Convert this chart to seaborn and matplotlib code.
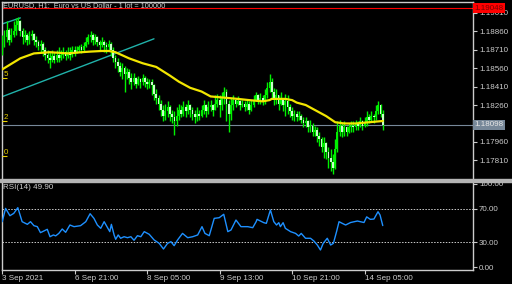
import numpy as np
import pandas as pd
import matplotlib
matplotlib.use("Agg")
import matplotlib.pyplot as plt
import seaborn as sns

# ---------------- data ----------------
first_open = 1.1871
close = [1.1875,1.1881,1.1887,1.1879,1.1883,1.1886,1.1891,1.1894,1.1886,1.1881,
         1.1883,1.1879,1.1882,1.1884,1.1879,1.1877,1.1874,1.1876,1.1871,1.1867,
         1.1864,1.1863,1.1866,1.1863,1.1867,1.1864,1.1867,1.1869,1.1866,1.1869,
         1.1867,1.1871,1.1869,1.1871,1.1873,1.1871,1.1874,1.1877,1.1881,1.1883,
         1.1879,1.1881,1.1877,1.1875,1.1877,1.1875,1.1873,1.1876,1.1871,1.1864,
         1.1861,1.1858,1.1853,1.1856,1.1851,1.1853,1.1848,1.1845,1.1848,1.1843,
         1.1847,1.1845,1.1848,1.1845,1.1843,1.1845,1.1842,1.1835,1.1832,1.1827,
         1.1822,1.1817,1.1821,1.1824,1.1819,1.1816,1.1813,1.1817,1.1822,1.1819,
         1.1824,1.1821,1.1826,1.1822,1.1819,1.1816,1.1819,1.1817,1.1822,1.1826,
         1.1821,1.1824,1.1826,1.1822,1.1827,1.1830,1.1826,1.1832,1.1837,1.1827,
         1.1819,1.1826,1.1830,1.1827,1.1829,1.1826,1.1827,1.1824,1.1827,1.1822,
         1.1826,1.1830,1.1834,1.1830,1.1832,1.1829,1.1834,1.1840,1.1845,1.1837,
         1.1830,1.1834,1.1827,1.1830,1.1826,1.1829,1.1824,1.1821,1.1817,1.1819,
         1.1816,1.1817,1.1814,1.1811,1.1813,1.1808,1.1809,1.1804,1.1806,1.1801,
         1.1798,1.1792,1.1795,1.1788,1.1783,1.1780,1.1775,1.1790,1.1804,1.1809,
         1.1804,1.1808,1.1804,1.1808,1.1809,1.1808,1.1811,1.1809,1.1813,1.1809,
         1.1811,1.1816,1.1814,1.1817,1.1816,1.1821,1.1826,1.1819,1.18098]
high = [1.1883,1.1887,1.1894,1.1889,1.1889,1.1894,1.1897,1.1898,1.1895,1.1889,
        1.1887,1.1885,1.1886,1.1887,1.1885,1.1882,1.1879,1.1879,1.1877,1.1873,
        1.1871,1.1869,1.1871,1.1869,1.1871,1.1873,1.1871,1.1873,1.1871,1.1873,
        1.1873,1.1874,1.1874,1.1874,1.1875,1.1876,1.1877,1.1881,1.1884,1.1886,
        1.1885,1.1884,1.1882,1.1879,1.1881,1.1879,1.1877,1.1879,1.1877,1.1873,
        1.1867,1.1864,1.1861,1.1860,1.1858,1.1856,1.1855,1.1852,1.1852,1.1849,
        1.1850,1.1848,1.1851,1.1850,1.1848,1.1847,1.1847,1.1843,1.1839,1.1834,
        1.1830,1.1826,1.1827,1.1829,1.1826,1.1822,1.1821,1.1824,1.1827,1.1826,
        1.1829,1.1827,1.1830,1.1827,1.1824,1.1822,1.1824,1.1822,1.1826,1.1830,
        1.1827,1.1829,1.1830,1.1827,1.1834,1.1835,1.1834,1.1837,1.1841,1.1839,
        1.1830,1.1832,1.1834,1.1832,1.1833,1.1830,1.1830,1.1829,1.1830,1.1829,
        1.1830,1.1834,1.1837,1.1835,1.1836,1.1834,1.1839,1.1845,1.1851,1.1848,
        1.1840,1.1839,1.1834,1.1837,1.1832,1.1835,1.1834,1.1827,1.1824,1.1822,
        1.1821,1.1821,1.1819,1.1816,1.1816,1.1814,1.1814,1.1811,1.1809,1.1808,
        1.1804,1.1800,1.1800,1.1796,1.1792,1.1790,1.1786,1.1798,1.1813,1.1814,
        1.1811,1.1813,1.1809,1.1811,1.1813,1.1813,1.1814,1.1813,1.1816,1.1814,
        1.1816,1.1821,1.1819,1.1821,1.1819,1.1826,1.1829,1.1827,1.1822]
low = [1.1867,1.1873,1.1877,1.1875,1.1877,1.1881,1.1883,1.1887,1.1882,1.1876,
       1.1877,1.1875,1.1876,1.1879,1.1875,1.1873,1.1871,1.1869,1.1866,1.1863,
       1.1860,1.1856,1.1861,1.1860,1.1861,1.1861,1.1863,1.1864,1.1863,1.1864,
       1.1863,1.1865,1.1866,1.1868,1.1869,1.1868,1.1869,1.1873,1.1876,1.1877,
       1.1875,1.1876,1.1874,1.1871,1.1873,1.1869,1.1868,1.1871,1.1866,1.1861,
       1.1856,1.1853,1.1850,1.1847,1.1837,1.1847,1.1843,1.1839,1.1842,1.1840,
       1.1842,1.1840,1.1842,1.1841,1.1839,1.1840,1.1834,1.1830,1.1827,1.1822,
       1.1817,1.1813,1.1814,1.1816,1.1813,1.1811,1.1802,1.1809,1.1814,1.1816,
       1.1817,1.1816,1.1819,1.1816,1.1814,1.1811,1.1813,1.1814,1.1816,1.1819,
       1.1816,1.1819,1.1821,1.1817,1.1822,1.1824,1.1816,1.1822,1.1827,1.1813,
       1.1804,1.1814,1.1822,1.1824,1.1826,1.1822,1.1824,1.1821,1.1822,1.1819,
       1.1821,1.1824,1.1829,1.1827,1.1827,1.1826,1.1827,1.1832,1.1837,1.1832,
       1.1826,1.1827,1.1822,1.1826,1.1821,1.1817,1.1819,1.1816,1.1814,1.1813,
       1.1813,1.1814,1.1811,1.1808,1.1808,1.1804,1.1804,1.1801,1.1801,1.1796,
       1.1793,1.1788,1.1783,1.1782,1.1775,1.1772,1.1770,1.1774,1.1788,1.1801,
       1.1800,1.1801,1.1801,1.1803,1.1804,1.1804,1.1806,1.1806,1.1808,1.1806,
       1.1808,1.1809,1.1811,1.1813,1.1811,1.1814,1.1819,1.1816,1.1806]

ma_bar = [0, 8, 14, 21, 29, 35, 39, 44, 47, 50, 56, 62, 68, 74, 78, 83, 88, 92,
          98, 104, 109, 115, 118, 119, 125, 128, 130, 134, 139, 143, 147, 151,
          156, 162, 168]
ma_val = [1.1855, 1.1864, 1.1868, 1.1869, 1.1868, 1.1869, 1.18695, 1.1870,
          1.1870, 1.1869, 1.1864, 1.1860, 1.1857, 1.1850, 1.1845, 1.1840,
          1.1837, 1.1833, 1.1832, 1.1831, 1.1830, 1.1829, 1.1830, 1.1831,
          1.1831, 1.1830, 1.1828, 1.1826, 1.1821, 1.1817, 1.1812, 1.1811,
          1.1811, 1.1812, 1.1813]

rsi_bar = [0, 1.5, 3.4, 5.1, 6.9, 8.8, 11.1, 12.5, 14, 15.5, 16.9, 18.4, 19.9,
           21.1, 22.6, 23.6, 25, 26.5, 28, 29.9, 31.7, 34.6, 36.9, 38.8, 40.5,
           42, 43.5, 45, 46.5, 47.5, 48.2, 49.4, 50.1, 51.2, 52.3, 53.8, 55.3,
           56.8, 58.2, 59.7, 61.2, 62.7, 64.9, 67.1, 69.3, 71.2, 73, 74.5, 75.9,
           77.4, 79.6, 81.9, 84.1, 86.3, 88.2, 89.5, 91.4, 93.6, 95.8, 97.8,
           99.6, 101, 103.2, 105.4, 108.4, 110.6, 112.1, 112.5, 115.5, 116.6,
           118.4, 119.9, 121.1, 122.1, 122.8, 124, 125, 127.3, 129.5, 130.9,
           132, 133.9, 136.1, 137.6, 139.1, 140.5, 141.7, 143.5, 145, 146.2,
           147.6, 148.7, 150.1, 151.6, 153.8, 156.8, 159.7, 160.9, 162.5,
           164.1, 165.9, 166.8, 168]
rsi_val = [54.6, 70.6, 61.8, 64.6, 71.5, 54.6, 51.4, 54.6, 49.8, 48.6, 41.4,
           43.4, 45.4, 36.5, 38.6, 37.5, 40.5, 45.8, 41.8, 50.6, 48.6, 49.8,
           54.6, 64.2, 58.6, 50.6, 46.6, 54.6, 47.4, 42.6, 51.4, 38.6, 33.4,
           38.6, 34.6, 36.5, 35.3, 36.5, 32.2, 37.7, 36.5, 42.6, 39.4, 32.5,
           28.5, 21.7, 28.5, 30.5, 25.7, 32.5, 40.5, 35.3, 36.5, 38.6, 48.6,
           40.5, 37.7, 58.6, 59.4, 63.5, 42.6, 44.6, 56.6, 48.6, 48.6, 47.4,
           54.6, 57.4, 53.4, 52.6, 68.7, 54.6, 50.6, 53.4, 48.6, 53.4, 46.6,
           42.6, 40.5, 37.3, 40.5, 34.6, 34.6, 31.3, 26.5, 20.5, 28.5, 34.6,
           26.5, 28.5, 42.6, 54.6, 52.6, 50.6, 53.6, 55.4, 53.6, 60.4, 57.4,
           57.8, 66.6, 62.6, 49.9]

trend_bar = [0, 67]
trend_price = [1.18328, 1.18799]
trend2_bar = [0, 8]
trend2_price = [1.18920, 1.18969]

fibo_levels = [1.18482, 1.18126, 1.17842]
fibo_texts = ["5", "2", "0"]

bid_price = 1.18098
red_price = 1.19048
price_ticks = [1.19010, 1.18860, 1.18710, 1.18560, 1.18410, 1.18260, 1.17960, 1.17810]
rsi_ticks = [100, 70, 30, 0]
time_tick_bars = [0, 32, 64, 96, 128, 160]
time_tick_labels = ["3 Sep 2021", "6 Sep 21:00", "8 Sep 05:00", "9 Sep 13:00",
                    "10 Sep 21:00", "14 Sep 05:00"]
title = "EURUSD, H1:  Euro vs US Dollar - 1 lot = 100000"
rsi_title = "RSI(14) 49.90"

# ---------------- style ----------------
sns.set_style("dark")
plt.rcParams.update({
    "axes.facecolor": "black",
    "figure.facecolor": "black",
    "savefig.facecolor": "black",
    "axes.grid": False,
})
plt.rcParams["font.family"] = ["Liberation Sans", "DejaVu Sans"]

W, H = 512, 284
fig = plt.figure(figsize=(W / 100, H / 100), dpi=100)

def px_axes(x0, y0, x1, y1):
    return fig.add_axes([x0 / W, 1 - y1 / H, (x1 - x0) / W, (y1 - y0) / H])

ax = px_axes(1.7, 1.7, 472.7, 179)
ar = px_axes(1.7, 182, 472.7, 270)

FG = "#CCCCCC"
FS = 5.8
for a in (ax, ar):
    a.set_facecolor("black")
    for s in a.spines.values():
        s.set_color(FG)
        s.set_linewidth(1.0)
    a.set_xlim(-0.22, 207.7)

ax.spines["bottom"].set_visible(False)
ar.spines["top"].set_visible(False)
# separator between panes
fig.patches.append(plt.Rectangle((0, 1 - 182 / H), 1, 3 / H, transform=fig.transFigure,
                                 color="#B4B4B4", zorder=5))

# ---------------- main pane ----------------
n = len(close)
bars = np.arange(n)
opens = np.array([first_open] + close[:-1])
closes = np.array(close)
hi = np.maximum(np.array(high), np.maximum(opens, closes))
lo = np.minimum(np.array(low), np.minimum(opens, closes))

ax.axhline(red_price, color="#FF0000", lw=0.8, zorder=1)
ax.axhline(bid_price, color="#778899", lw=0.8, zorder=1)
ax.plot(trend_bar, trend_price, color="#20B2AA", lw=1.0, zorder=2)
ax.plot(trend2_bar, trend2_price, color="#20B2AA", lw=1.0, zorder=2)

ax.vlines(bars, lo, hi, color="#00F000", lw=1.0, zorder=3)
bull = closes >= opens
body_h = np.where(np.abs(closes - opens) < 0.00002, 0.00002, closes - opens)
ax.bar(bars[bull], body_h[bull], bottom=opens[bull], width=0.85, color="#00F000",
       linewidth=0, zorder=4)
ax.bar(bars[~bull], body_h[~bull], bottom=opens[~bull], width=0.75, color="#C8FFC8",
       linewidth=0, zorder=4)

sns.lineplot(x=ma_bar, y=ma_val, ax=ax, color="#F2E600", lw=1.6, zorder=6, legend=False)

for lvl, t in zip(fibo_levels, fibo_texts):
    ax.hlines(lvl, -0.22, 2.0, color="#E8D000", lw=0.8, zorder=6)
    ax.text(0.5, lvl, t, color="#E8D000", fontsize=FS, ha="left", va="bottom", zorder=6)

ax.set_ylim(1.17658, 1.19101)
ax.set_xticks([])
ax.yaxis.tick_right()
ax.set_yticks(price_ticks)
ax.set_yticklabels([f"{p:.5f}" for p in price_ticks])
ax.tick_params(axis="y", right=True, left=False, length=3, width=0.8, colors=FG,
               labelsize=FS, pad=1.5)
ax.set_xlabel("")
ax.set_ylabel("")

ytr = ax.get_yaxis_transform()
ax.text(1.0045, bid_price, f"{bid_price:.5f}", transform=ytr, ha="left", va="center",
        fontsize=FS, color="#E8E8E8", clip_on=False, zorder=10,
        bbox=dict(boxstyle="square,pad=0.18", fc="#778899", ec="none"))
ax.text(1.0045, red_price, f"{red_price:.5f}", transform=ytr, ha="left", va="center",
        fontsize=FS, color="#7A0000", clip_on=False, zorder=10,
        bbox=dict(boxstyle="square,pad=0.18", fc="#FF0000", ec="none"))

fig.text(3 / W, 1 - 2.5 / H, title, color="#D0D0D0", fontsize=5.3, ha="left", va="top")

# ---------------- RSI pane ----------------
ar.axhline(70, color=FG, lw=0.7, ls=(0, (1.5, 1.5)), zorder=1)
ar.axhline(30, color=FG, lw=0.7, ls=(0, (1.5, 1.5)), zorder=1)
sns.lineplot(x=rsi_bar, y=rsi_val, ax=ar, color="#1E90FF", lw=1.0, legend=False, zorder=3)
ar.set_ylim(-3.6, 102.4)
ar.yaxis.tick_right()
ar.set_yticks(rsi_ticks)
ar.set_yticklabels([f"{v:.2f}" for v in rsi_ticks])
ar.set_xticks(time_tick_bars)
ar.set_xticklabels(time_tick_labels, ha="left")
ar.tick_params(axis="y", right=True, left=False, length=3, width=0.8, colors=FG,
               labelsize=FS, pad=1.5)
ar.tick_params(axis="x", bottom=True, length=3, width=0.8, colors=FG,
               labelsize=FS, pad=0.5)
ar.set_xlabel("")
ar.set_ylabel("")
fig.text(3 / W, 1 - 184 / H, rsi_title, color="#D0D0D0", fontsize=FS, ha="left", va="top")

fig.savefig("out.png", dpi=100, facecolor="black")
